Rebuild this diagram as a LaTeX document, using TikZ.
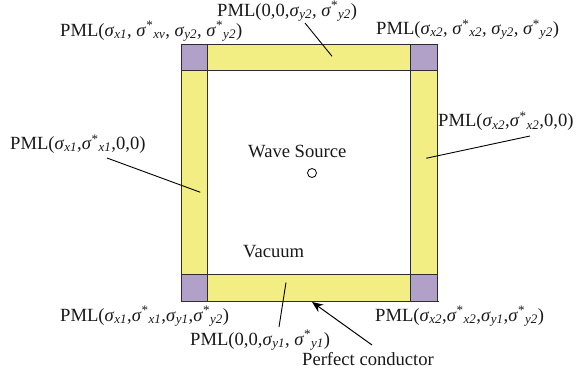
\documentclass[tikz,border=0pt]{standalone}
\usepackage{fontspec}
\setmainfont{Liberation Serif}
\usepackage{tikz}
\usetikzlibrary{arrows.meta, calc}
\definecolor{pmlyellow}{RGB}{242,238,132}
\definecolor{pmlpurple}{RGB}{177,161,201}
\definecolor{edgegray}{RGB}{45,45,45}
\newcommand{\sg}[1]{\textit{σ}\textsubscript{\itshape #1}}
\newcommand{\sgs}[1]{\textit{σ}\textsuperscript{*}\textsubscript{\itshape #1}}
\tikzset{
    pml_strip/.style={
        rectangle, draw=edgegray, line width=0.9pt, fill=pmlyellow,
        inner sep=0pt
    },
    pml_corner/.style={
        rectangle, draw=edgegray, line width=0.9pt, fill=pmlpurple,
        inner sep=0pt, minimum width=26.5pt, minimum height=26.5pt
    },
    lbl_text/.style={
        anchor=base west, inner sep=0pt, text=black!90,
        font=\fontsize{18.6}{21}\selectfont
    },
    lead_line/.style={
        draw=black, line width=0.9pt
    },
    cond_arrow/.style={
        -{Stealth[length=11pt,width=9pt]}, draw=black, line width=1pt
    }
}

\begin{document}
\begin{tikzpicture}[x=1pt, y=-1pt]
\useasboundingbox (0,0) rectangle (582,373);

% PML frame
\node[pml_strip, minimum width=203pt, minimum height=26.5pt] (top_strip) at (309,57.25) {};
\node[pml_strip, minimum width=203pt, minimum height=27pt] (bot_strip) at (309,287.5) {};
\node[pml_strip, minimum width=26.5pt, minimum height=203.5pt] (left_strip) at (194.25,172.25) {};
\node[pml_strip, minimum width=26.5pt, minimum height=203.5pt] (right_strip) at (423.75,172.25) {};
\node[pml_corner] (corner_tl) at (194.25,57.25) {};
\node[pml_corner] (corner_tr) at (423.75,57.25) {};
\node[pml_corner, minimum height=27pt] (corner_bl) at (194.25,287.5) {};
\node[pml_corner, minimum height=27pt] (corner_br) at (423.75,287.5) {};

% perfect conductor
\draw[edgegray, line width=1.8pt] (corner_bl.south west) -- ($(corner_br.south east)+(1.5,0)$);

% source
\node[lbl_text] (src_text) at (248,157.3) {Wave Source};
\node[circle, draw=black, line width=0.8pt, minimum size=9pt, inner sep=0pt] (src) at (312,173) {};
\node[lbl_text] (vac_text) at (243,257) {Vacuum};

% labels
\node[lbl_text] (lbl_top) at (217,16) {PML(0,0,\sg{y2}, \sgs{y2})};
\node[lbl_text] (lbl_tl) at (60,36) {PML(\sg{x1}, \sgs{xv}, \sg{y2}, \sgs{y2})};
\node[lbl_text] (lbl_tr) at (376,34.3) {PML(\sg{x2}, \sgs{x2}, \sg{y2}, \sgs{y2})};
\node[lbl_text] (lbl_left) at (10,149.3) {PML(\sg{x1},\sgs{x1},0,0)};
\node[lbl_text] (lbl_right) at (438,126.7) {PML(\sg{x2},\sgs{x2},0,0)};
\node[lbl_text] (lbl_bl) at (60,321) {PML(\sg{x1},\sgs{x1},\sg{y1},\sgs{y2})};
\node[lbl_text] (lbl_bm) at (190,345) {PML(0,0,\sg{y1}, \sgs{y1})};
\node[lbl_text] (lbl_br) at (375,321) {PML(\sg{x2},\sgs{x2},\sg{y1},\sgs{y2})};
\node[lbl_text] (lbl_cond) at (302,365) {Perfect conductor};

% leader lines
\coordinate (lead_top) at (305,23);
\coordinate (lead_left) at (107,158);
\coordinate (lead_right) at (530,136);
\coordinate (lead_bm) at (279,327);
\coordinate (lead_cond) at (372,345);
\draw[lead_line] (lead_top) -- ($(top_strip.center)+(23,-1)$);
\draw[lead_line] (lead_left) -- ($(left_strip.center)+(6,20)$);
\draw[lead_line] (lead_right) -- ($(right_strip.center)+(2.5,-14)$);
\draw[lead_line] (lead_bm) -- ($(bot_strip.center)+(-23,-5)$);
\draw[cond_arrow] (lead_cond) -- ($(bot_strip.south)+(3,0.5)$);
\end{tikzpicture}
\end{document}
